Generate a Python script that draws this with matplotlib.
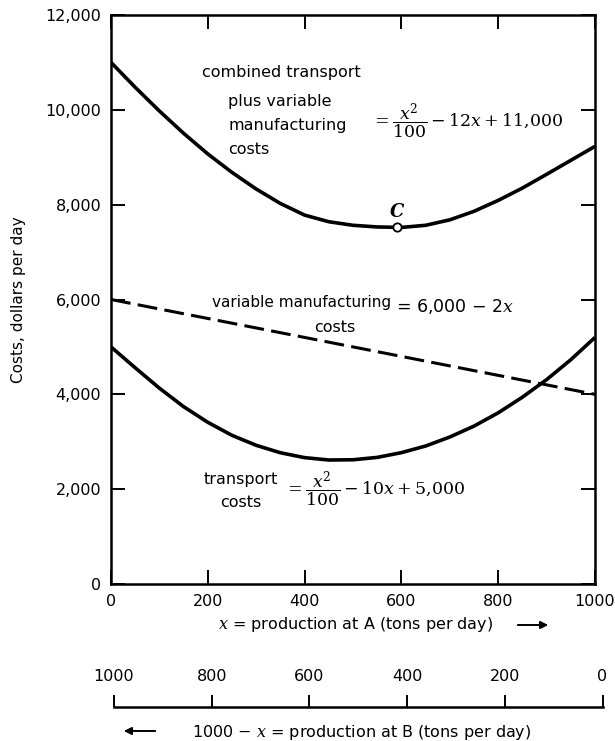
import matplotlib
matplotlib.use("Agg")
import matplotlib.pyplot as plt

# production at A (tons per day), sampled every 50
x_tons = [0, 50, 100, 150, 200, 250, 300, 350, 400, 450, 500,
          550, 600, 650, 700, 750, 800, 850, 900, 950, 1000]

# transport costs, dollars per day
transport = [5000, 4560, 4130, 3740, 3410, 3135, 2925, 2768, 2665, 2615, 2620,
             2670, 2770, 2910, 3100, 3330, 3610, 3940, 4310, 4730, 5200]

# combined transport plus variable manufacturing costs
combined = [11000, 10475, 9975, 9505, 9070, 8680, 8330, 8025, 7780, 7640, 7565,
            7530, 7520, 7565, 7680, 7860, 8090, 8350, 8640, 8935, 9230]

# variable manufacturing costs (straight line)
mfg_x = [0, 1000]
mfg_y = [6000, 4000]

# minimum of combined cost
c_x = 590
c_y = 7520

x_ticks = [0, 200, 400, 600, 800, 1000]
y_ticks = [0, 2000, 4000, 6000, 8000, 10000, 12000]
y_ticklabels = ["0", "2,000", "4,000", "6,000", "8,000", "10,000", "12,000"]
b_ticks = [1000, 800, 600, 400, 200, 0]

W, H = 615, 741
fs = 11.5

plt.rcParams["font.family"] = ["DejaVu Sans"]
fig = plt.figure(figsize=(W / 100, H / 100), dpi=100)
ax = fig.add_axes([111 / W, 1 - 584 / H, 484 / W, 569 / H])

ax.plot(x_tons, combined, color="black", lw=2.6, solid_joinstyle="round", solid_capstyle="butt")
ax.plot(x_tons, transport, color="black", lw=2.6, solid_joinstyle="round", solid_capstyle="butt")
mfg_line, = ax.plot(mfg_x, mfg_y, color="black", lw=2.2)
mfg_line.set_dashes([6.5, 2.4])
ax.plot([c_x], [c_y], marker="o", ms=6, mfc="white", mec="black", mew=1.3, zorder=5)
ax.text(c_x, c_y + 330, "C", family="DejaVu Serif", style="italic", weight="bold",
        fontsize=13, ha="center", va="center")

ax.set_xlim(0, 1000)
ax.set_ylim(0, 12000)
ax.set_xticks(x_ticks)
ax.set_xticklabels([str(t) for t in x_ticks])
ax.set_yticks(y_ticks)
ax.set_yticklabels(y_ticklabels)
ax.tick_params(direction="in", length=10, width=1.4, labelsize=fs,
               top=True, right=True, pad=7)
for s in ax.spines.values():
    s.set_linewidth(1.8)

ax.set_ylabel("Costs, dollars per day", fontsize=11)
ax.yaxis.set_label_coords(-0.175, 0.5)

# curve labels
ax.text(188, 10780, "combined transport", fontsize=fs, ha="left", va="center")
ax.text(242, 10180, "plus variable", fontsize=fs, ha="left", va="center")
ax.text(242, 9680, "manufacturing", fontsize=fs, ha="left", va="center")
ax.text(242, 9160, "costs", fontsize=fs, ha="left", va="center")
ax.text(537, 9750, r"$=\dfrac{x^2}{100} - 12x + 11{,}000$", fontsize=12.5,
        math_fontfamily="dejavuserif", ha="left", va="center")

ax.text(209, 5930, "variable manufacturing", fontsize=11, ha="left", va="center")
ax.text(463, 5420, "costs", fontsize=fs, ha="center", va="center")
ax.text(589, 5860, "= 6,000 \u2212 2$x$", fontsize=12.5,
        math_fontfamily="dejavuserif", ha="left", va="center")

ax.text(269, 2200, "transport", fontsize=fs, ha="center", va="center")
ax.text(269, 1720, "costs", fontsize=fs, ha="center", va="center")
ax.text(358, 1980, r"$=\dfrac{x^2}{100} - 10x + 5{,}000$", fontsize=12.5,
        math_fontfamily="dejavuserif", ha="left", va="center")

# axis title for production at A, with arrow
fig.text(356 / W, 1 - 625 / H, "$x$ = production at A (tons per day)", fontsize=fs,
         math_fontfamily="dejavuserif", ha="center", va="center")
fig.add_artist(matplotlib.patches.FancyArrowPatch(
    (515 / W, 1 - 625 / H), (551 / W, 1 - 625 / H), transform=fig.transFigure,
    arrowstyle="-|>", mutation_scale=11, lw=1.4, color="black"))

# second scale: production at B
bx = fig.add_axes([114 / W, 1 - 707 / H, 488.5 / W, 12 / H])
bx.set_xlim(1000, 0)
bx.set_ylim(0, 1)
bx.set_xticks(b_ticks)
bx.set_xticklabels([str(t) for t in b_ticks])
bx.set_yticks([])
for side in ("left", "right", "top"):
    bx.spines[side].set_visible(False)
bx.spines["bottom"].set_linewidth(1.8)
bx.patch.set_visible(False)
bx.tick_params(axis="x", direction="in", length=8.6, width=1.4, bottom=True,
               labelbottom=False, top=False, labeltop=True, labelsize=fs, pad=8)

fig.text(362 / W, 1 - 732 / H, "1000 \u2212 $x$ = production at B (tons per day)",
         fontsize=fs, math_fontfamily="dejavuserif", ha="center", va="center")
fig.add_artist(matplotlib.patches.FancyArrowPatch(
    (158 / W, 1 - 731 / H), (121 / W, 1 - 731 / H), transform=fig.transFigure,
    arrowstyle="-|>", mutation_scale=11, lw=1.4, color="black"))

fig.savefig("out.png", dpi=100)
